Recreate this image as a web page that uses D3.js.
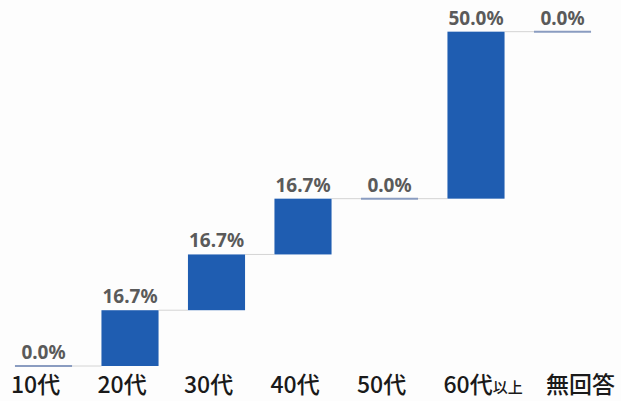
<!DOCTYPE html>
<html>
<head>
<meta charset="utf-8">
<script src="https://cdn.jsdelivr.net/npm/d3@7"></script>
<style>
  body { margin: 0; background: #fdfdfd; }
</style>
</head>
<body>
<div id="chart"></div>
<script>
const categories = ["10代", "20代", "30代", "40代", "50代", "60代", "無回答"];
const suffixes = ["", "", "", "", "", "以上", ""];
const values = [0.0, 16.7, 16.7, 16.7, 0.0, 50.0, 0.0];

const width = 621, height = 401;

const svg = d3.select("#chart")
  .append("svg")
  .attr("width", width)
  .attr("height", height);

// running totals for the waterfall
let total = 0;
const steps = values.map((v, i) => {
  const start = total;
  total += v;
  return { cat: categories[i], suffix: suffixes[i], value: v, start, end: total };
});

const x = d3.scaleBand()
  .domain(categories)
  .range([0.25, 605.75])
  .paddingInner(0.34)
  .paddingOuter(0.17);

const y = d3.scaleLinear()
  .domain([0, 100])
  .range([366, 32]);

// connectors
svg.selectAll("line.conn")
  .data(steps.slice(0, -1))
  .enter()
  .append("line")
  .attr("x1", d => x(d.cat) + x.bandwidth())
  .attr("x2", (d, i) => x(categories[i + 1]))
  .attr("y1", d => y(d.end))
  .attr("y2", d => y(d.end))
  .style("stroke", "#d4d4d4")
  .style("stroke-width", 1);

// bars
svg.selectAll("rect")
  .data(steps.filter(d => d.value > 0))
  .enter()
  .append("rect")
  .attr("x", d => x(d.cat))
  .attr("width", x.bandwidth())
  .attr("y", d => y(d.end))
  .attr("height", d => y(d.start) - y(d.end))
  .style("fill", "#1f5db1");

// zero steps drawn as flat lines
svg.selectAll("line.zero")
  .data(steps.filter(d => d.value === 0))
  .enter()
  .append("line")
  .attr("x1", d => x(d.cat))
  .attr("x2", d => x(d.cat) + x.bandwidth())
  .attr("y1", d => y(d.end))
  .attr("y2", d => y(d.end))
  .style("stroke", "#8a9cc0")
  .style("stroke-width", 2);

// value labels
svg.selectAll("text.val")
  .data(steps)
  .enter()
  .append("text")
  .attr("text-anchor", "middle")
  .attr("x", d => x(d.cat) + x.bandwidth() / 2)
  .attr("y", d => y(d.end) - 7)
  .style("font-family", "'Noto Sans', sans-serif")
  .style("font-weight", "bold")
  .style("font-size", "19px")
  .style("fill", "#5a5a5a")
  .text(d => d.value.toFixed(1) + "%");

// category labels
const cat = svg.selectAll("text.cat")
  .data(steps)
  .enter()
  .append("text")
  .attr("x", (d, i) => x(d.cat) + (i === categories.length - 1 ? 12 : -4))
  .attr("y", 393)
  .style("font-family", "'Noto Sans CJK JP', sans-serif")
  .style("font-weight", "500")
  .style("font-size", "23px")
  .style("fill", "#1a1a1a");

cat.append("tspan").text(d => d.cat);
cat.append("tspan")
  .style("font-size", "15px")
  .text(d => d.suffix);
</script>
</body>
</html>
